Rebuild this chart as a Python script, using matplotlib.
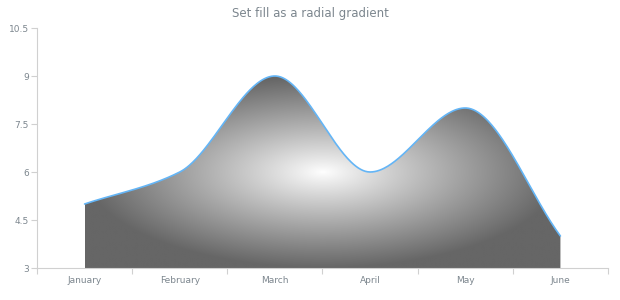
import numpy as np
import matplotlib
matplotlib.use("Agg")
import matplotlib.pyplot as plt
from matplotlib.path import Path
from matplotlib.patches import PathPatch

months = ["January", "February", "March", "April", "May", "June"]
values = [5, 6, 9, 6, 8, 4]
y_ticks = [3, 4.5, 6, 7.5, 9, 10.5]
y_tick_labels = ["3", "4.5", "6", "7.5", "9", "10.5"]

LINE_COLOR = "#64b5f6"
AXIS_COLOR = "#d0d0d0"
TEXT_COLOR = "#7c868e"


def monotone_spline(xs, ys, samples=80):
    """Monotone cubic Hermite curve (flat at local extrema)."""
    xs = np.asarray(xs, float)
    ys = np.asarray(ys, float)
    n = len(xs)
    h = np.diff(xs)
    d = np.diff(ys) / h
    m = np.zeros(n)
    m[0], m[-1] = d[0], d[-1]
    for i in range(1, n - 1):
        if d[i - 1] * d[i] > 0:
            m[i] = 2.0 / (1.0 / d[i - 1] + 1.0 / d[i])
    out_x, out_y = [], []
    for i in range(n - 1):
        t = np.linspace(0, 1, samples, endpoint=(i == n - 2))
        h00 = 2 * t**3 - 3 * t**2 + 1
        h10 = t**3 - 2 * t**2 + t
        h01 = -2 * t**3 + 3 * t**2
        h11 = t**3 - t**2
        out_x.append(xs[i] + t * h[i])
        out_y.append(h00 * ys[i] + h10 * h[i] * m[i] + h01 * ys[i + 1] + h11 * h[i] * m[i + 1])
    return np.concatenate(out_x), np.concatenate(out_y)


fig = plt.figure(figsize=(6.2, 3.0), dpi=100)
ax = fig.add_axes([37 / 620, 32 / 300, 571 / 620, 240 / 300])

x = np.arange(len(months))
sx, sy = monotone_spline(x, values)
base = y_ticks[0]

# area outline used to clip the gradient
verts = [(sx[0], base)] + list(zip(sx, sy)) + [(sx[-1], base), (sx[0], base)]
codes = [Path.MOVETO] + [Path.LINETO] * (len(verts) - 2) + [Path.CLOSEPOLY]
area = PathPatch(Path(verts, codes), facecolor="none", edgecolor="none")
ax.add_patch(area)

# radial gradient (white centre -> dark grey rim) over the area's bounding box
x0, x1 = sx.min(), sx.max()
y0, y1 = base, sy.max()
gx = np.linspace(x0, x1, 600)
gy = np.linspace(y0, y1, 300)
GX, GY = np.meshgrid(gx, gy)
cx, cy = (x0 + x1) / 2, (y0 + y1) / 2
r = np.sqrt(((GX - cx) / ((x1 - x0) / 2)) ** 2 + ((GY - cy) / ((y1 - y0) / 2)) ** 2)
k = np.clip(r, 0, 1) ** 0.92
start = np.array([1.0, 1.0, 1.0])
end = np.array([0x66, 0x66, 0x66]) / 255.0
rgb = start[None, None, :] * (1 - k[..., None]) + end[None, None, :] * k[..., None]
img = ax.imshow(rgb, extent=(x0, x1, y0, y1), origin="lower", aspect="auto",
                interpolation="bilinear", zorder=1)
img.set_clip_path(area)

ax.plot(sx, sy, color=LINE_COLOR, lw=1.2, zorder=3, solid_capstyle="round")

ax.set_xlim(-0.5, len(months) - 0.5)
ax.set_ylim(y_ticks[0], y_ticks[-1])

ax.set_yticks(y_ticks)
ax.set_yticklabels(y_tick_labels)
ax.set_xticks(x)
ax.set_xticklabels(months)
ax.set_xticks(np.arange(-0.5, len(months)), minor=True)
ax.tick_params(axis="x", which="major", length=0, pad=6, labelsize=6.5, labelcolor=TEXT_COLOR)
ax.tick_params(axis="x", which="minor", length=4, color=AXIS_COLOR, width=0.8)
ax.tick_params(axis="y", length=4, color=AXIS_COLOR, width=0.8, pad=2,
               labelsize=6.5, labelcolor=TEXT_COLOR)

for side in ("top", "right"):
    ax.spines[side].set_visible(False)
for side in ("left", "bottom"):
    ax.spines[side].set_color(AXIS_COLOR)
    ax.spines[side].set_linewidth(0.8)

fig.text(0.5, 1 - 13 / 300, "Set fill as a radial gradient", ha="center", va="center",
         fontsize=8.5, color=TEXT_COLOR)

fig.savefig("out.png", dpi=100)
